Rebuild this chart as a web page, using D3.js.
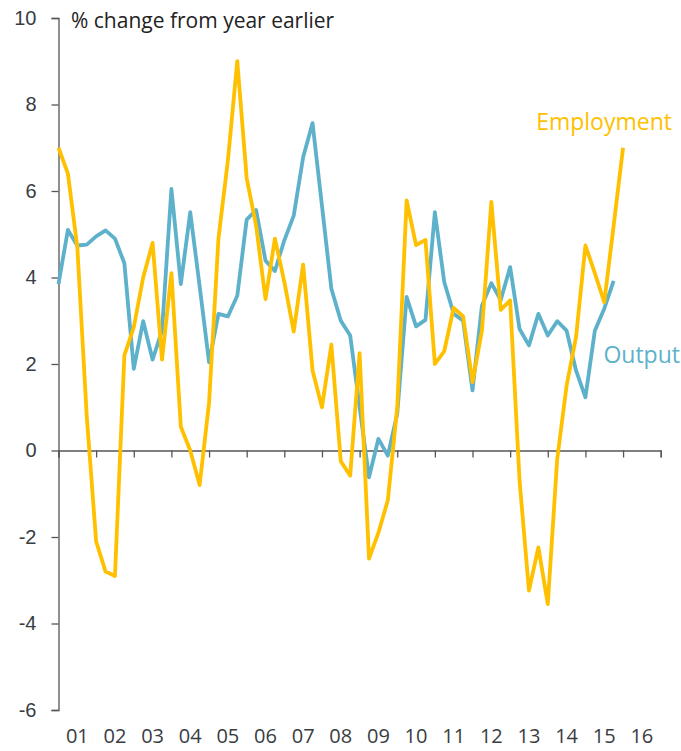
<!DOCTYPE html>
<html>
<head>
<meta charset="utf-8">
<script src="https://cdn.jsdelivr.net/npm/d3@7"></script>
<style>
  body { margin: 0; background: #fff; }
  svg { display: block; font-family: "Open Sans", "DejaVu Sans", sans-serif; }
</style>
</head>
<body>
<div id="chart"></div>
<script>
// quarterly % change from year earlier, first point = 2001 Q1
var employment = [7.0, 6.4, 4.7, 0.8, -2.1, -2.8, -2.9, 2.2, 2.85, 4.0,
                  4.8, 2.1, 4.1, 0.55, 0.0, -0.8, 1.1, 4.9, 6.7, 9.0,
                  6.3, 5.2, 3.5, 4.9, 3.9, 2.75, 4.3, 1.85, 1.0, 2.45,
                  -0.25, -0.58, 2.25, -2.5, -1.9, -1.15, 1.0, 5.78, 4.75, 4.87,
                  2.0, 2.3, 3.3, 3.1, 1.58, 2.77, 5.75, 3.25, 3.47, -0.7,
                  -3.24, -2.24, -3.55, -0.2, 1.5, 2.62, 4.74, 4.1, 3.43, 5.2,
                  7.0]
var output = [3.85, 5.1, 4.74, 4.76, 4.95, 5.09, 4.9, 4.33, 1.89, 2.99,
              2.1, 2.77, 6.05, 3.85, 5.51, 3.8, 2.04, 3.16, 3.1, 3.58,
              5.34, 5.56, 4.39, 4.15, 4.86, 5.43, 6.78, 7.57, 5.66, 3.74,
              3.0, 2.66, 1.0, -0.62, 0.27, -0.12, 0.85, 3.55, 2.87, 3.02,
              5.51, 3.89, 3.16, 3.0, 1.39, 3.35, 3.87, 3.48, 4.24, 2.81,
              2.43, 3.16, 2.66, 2.99, 2.77, 1.85, 1.23, 2.77, 3.28, 3.92]
var yearLabels = ["01","02","03","04","05","06","07","08","09","10","11","12","13","14","15","16"]
var yTicks = [-6, -4, -2, 0, 2, 4, 6, 8, 10]
var startYear = 2001

var gold = "#ffc000", teal = "#5eb1ca", textCol = "#383d42"

var width = 681, height = 751

var svg = d3.select("#chart").append("svg")
    .attr("width", width)
    .attr("height", height)

var xScale = d3.scaleLinear().domain([2001, 2017]).range([58.5, 660.7])
var yScale = d3.scaleLinear().domain([-6, 10]).range([710, 18])

function quarter(i) { return startYear + i / 4 }

// y axis, plain hyphen for negatives
var yAxis = d3.axisLeft(yScale).tickValues(yTicks).tickSize(7).tickPadding(15)
  .tickFormat(function(d) { return String(d) })
var yA = svg.append("g").attr("transform", "translate(" + xScale(2001) + ",0)").call(yAxis)
yA.select(".domain").attr("stroke", "#555").attr("stroke-width", 1.3)
yA.selectAll(".tick line").attr("stroke", "#555").attr("stroke-width", 1.3)
yA.selectAll("text").style("font-size", "20px").attr("fill", textCol)

// x axis along zero, no labels
var years = d3.range(2001, 2018)
var xAxis = d3.axisBottom(xScale).tickValues(years).tickSize(7).tickFormat("").tickSizeOuter(7)
var xA = svg.append("g").attr("transform", "translate(0," + yScale(0) + ")").call(xAxis)
xA.select(".domain").attr("stroke", "#555").attr("stroke-width", 1.3)
xA.selectAll(".tick line").attr("stroke", "#555").attr("stroke-width", 1.3)

// year labels at the bottom, centred in each year
svg.append("g").selectAll("text")
  .data(yearLabels)
  .join("text")
  .attr("x", function(d, i) { return xScale(2001 + i + 0.5) })
  .attr("y", 743)
  .attr("text-anchor", "middle")
  .style("font-size", "20px")
  .attr("fill", textCol)
  .text(function(d) { return d })

var line = d3.line()
  .x(function(d, i) { return xScale(quarter(i)) })
  .y(function(d) { return yScale(d) })

svg.append("path")
  .attr("d", line(output))
  .attr("fill", "none")
  .attr("stroke", teal)
  .attr("stroke-width", 3.8)
  .attr("stroke-linejoin", "round")

svg.append("path")
  .attr("d", line(employment))
  .attr("fill", "none")
  .attr("stroke", gold)
  .attr("stroke-width", 3.8)
  .attr("stroke-linejoin", "round")

svg.append("text").attr("x", 71).attr("y", 28)
  .text("% change from year earlier")
  .style("font-size", "21px")
  .attr("fill", "#222")

svg.append("text").attr("x", 672).attr("y", 130)
  .attr("text-anchor", "end")
  .text("Employment")
  .style("font-size", "23px")
  .attr("fill", gold)

svg.append("text").attr("x", 680).attr("y", 363)
  .attr("text-anchor", "end")
  .text("Output")
  .style("font-size", "23px")
  .attr("fill", teal)
</script>
</body>
</html>
